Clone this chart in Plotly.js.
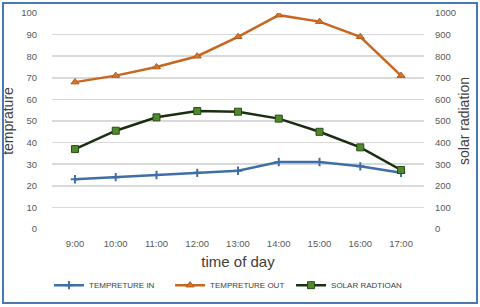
<!DOCTYPE html>
<html><head><meta charset="utf-8">
<script src="https://cdn.plot.ly/plotly-3.0.1.min.js"></script>
<style>html,body{margin:0;padding:0;background:#fff}#c{width:480px;height:307px;position:relative}
#frame{position:absolute;left:2px;top:2px;width:472px;height:298px;border:2px solid #4a78b4;pointer-events:none;z-index:5}</style>
</head><body><div id="c"><div id="frame"></div></div>
<script>
const categories = ["9:00","10:00","11:00","12:00","13:00","14:00","15:00","16:00","17:00"];
const tempIn = [23,24,25,26,27,31,31,29,26];
const tempOut = [68,71,75,80,89,99,96,89,71];
const solar = [370,455,517,546,543,511,450,378,273];
const leftTicks = [0,10,20,30,40,50,60,70,80,90,100];
const rightTicks = [0,100,200,300,400,500,600,700,800,900,1000];

const font = "Liberation Sans Narrow, Arial Narrow, Liberation Sans, sans-serif";
const traces = [
 {x:categories,y:tempIn,name:"TEMPRETURE IN",type:"scatter",mode:"lines+markers",
  line:{color:"#3f6fa6",width:2.5},marker:{symbol:"cross-thin",size:6,line:{color:"#3f6fa6",width:2}}},
 {x:categories,y:tempOut,name:"TEMPRETURE OUT",type:"scatter",mode:"lines+markers",
  line:{color:"#c8671f",width:2.5},marker:{symbol:"triangle-up",size:7,color:"#d0762f",line:{color:"#b85a15",width:1}}},
 {x:categories,y:solar,name:"SOLAR RADTIOAN",type:"scatter",mode:"lines+markers",yaxis:"y2",
  line:{color:"#1c2e12",width:2.5},marker:{symbol:"square",size:7,color:"#4e8a2c",line:{color:"#2c4a18",width:1}}}
];
const layout = {
 width:480,height:307,margin:{l:52,r:56,t:13,b:78,autoexpand:false},
 paper_bgcolor:"#fff",plot_bgcolor:"#fff",
 font:{family:font,color:"#595959",size:9.5},
 showlegend:true,
 legend:{orientation:"h",x:0.48,xanchor:"center",y:-0.26,yanchor:"middle",itemwidth:30,
  font:{size:8,color:"#404040",family:font},entrywidth:76,entrywidthmode:"pixels",tracegroupgap:0},
 xaxis:{type:"category",showgrid:false,zeroline:false,showline:false,
  ticks:"outside",ticklen:6,tickcolor:"rgba(0,0,0,0)",tickfont:{size:9.5,color:"#595959"},
  title:{text:"time of day",font:{size:15,color:"#404040",family:font},standoff:8}},
 yaxis:{range:[0,100],tickvals:leftTicks,showgrid:true,gridcolor:"#d9d9d9",gridwidth:1.5,
  zeroline:false,showline:false,ticks:"outside",ticklen:12,tickcolor:"rgba(0,0,0,0)",
  tickfont:{size:9.5,color:"#595959"},
  title:{text:"temprature",font:{size:14,color:"#404040",family:font},standoff:4}},
 yaxis2:{range:[0,1000],tickvals:rightTicks,overlaying:"y",side:"right",showgrid:false,
  zeroline:false,showline:false,ticks:"outside",ticklen:8,tickcolor:"rgba(0,0,0,0)",
  tickfont:{size:9.5,color:"#595959"},
  title:{text:"solar radiation",font:{size:14,color:"#404040",family:font},standoff:4}}
};
Plotly.newPlot("c",traces,layout,{displayModeBar:false,staticPlot:true});
</script></body></html>
